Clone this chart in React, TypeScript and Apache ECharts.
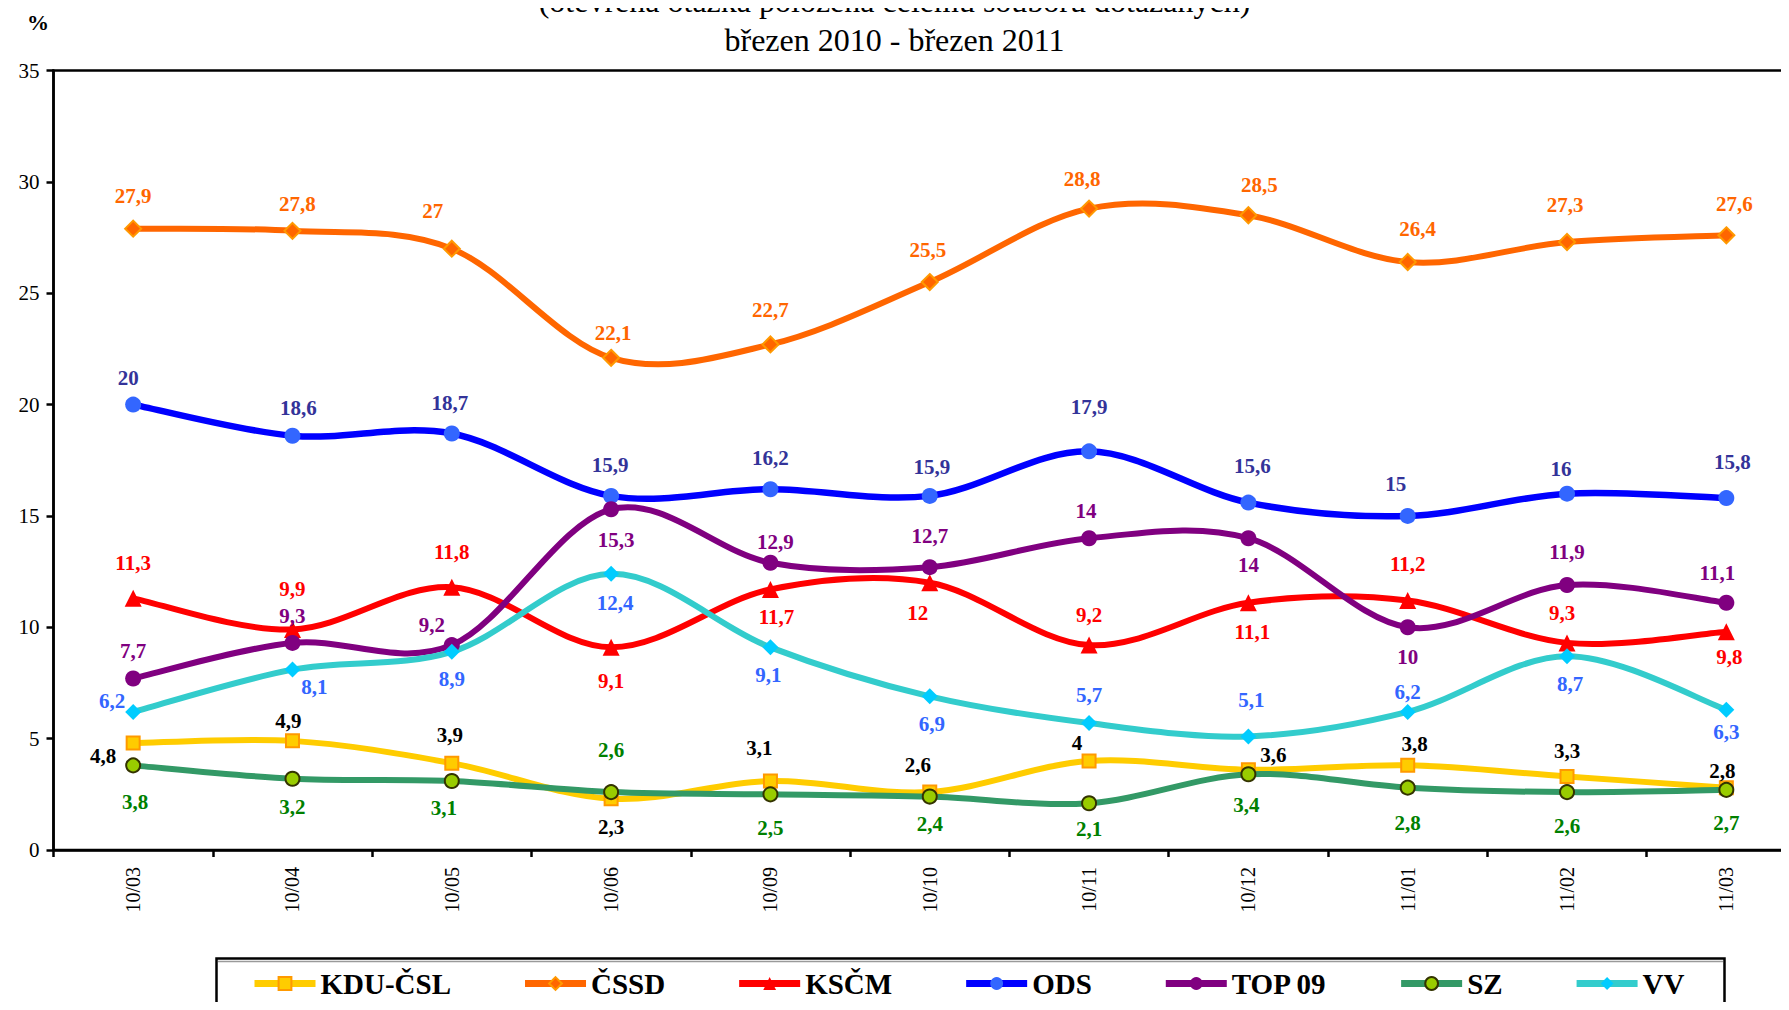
import React, { useEffect, useRef } from "react";
import * as echarts from "echarts";

const categories = ["10/03", "10/04", "10/05", "10/06", "10/09", "10/10", "10/11", "10/12", "11/01", "11/02", "11/03"];
const yTicks = [0, 5, 10, 15, 20, 25, 30, 35];

const kduCsl = [4.8, 4.9, 3.9, 2.3, 3.1, 2.6, 4, 3.6, 3.8, 3.3, 2.8];
const cssd = [27.9, 27.8, 27, 22.1, 22.7, 25.5, 28.8, 28.5, 26.4, 27.3, 27.6];
const kscm = [11.3, 9.9, 11.8, 9.1, 11.7, 12, 9.2, 11.1, 11.2, 9.3, 9.8];
const ods = [20, 18.6, 18.7, 15.9, 16.2, 15.9, 17.9, 15.6, 15, 16, 15.8];
const top09 = [7.7, 9.3, 9.2, 15.3, 12.9, 12.7, 14, 14, 10, 11.9, 11.1];
const sz = [3.8, 3.2, 3.1, 2.6, 2.5, 2.4, 2.1, 3.4, 2.8, 2.6, 2.7];
const vv = [6.2, 8.1, 8.9, 12.4, 9.1, 6.9, 5.7, 5.1, 6.2, 8.7, 6.3];

// label placement (layout only, not data)
const offKdu = [[-30, 13], [-4, -20], [-2, -28], [0, 28], [-11, -33], [-12, -27], [-12, -18], [25, -15], [7, -21], [0, -26], [-4, -17]];
const offCssd = [[0, -33], [5, -27], [-19, -38], [2, -25], [0, -34], [-2, -32], [-7, -30], [11, -30], [10, -33], [-2, -37], [8, -31]];
const offKscm = [[0, -35], [0, -41], [0, -35], [0, 34], [6, 28], [-12, 30], [0, -30], [4, 29], [0, -37], [-5, -30], [3, 25]];
const offOds = [[-5, -27], [6, -28], [-2, -31], [-1, -31], [0, -31], [2, -29], [0, -44], [4, -37], [-12, -32], [-6, -25], [6, -36]];
const offTop = [[0, -28], [0, -27], [-20, -20], [5, 31], [5, -21], [0, -31], [-3, -27], [0, 27], [0, 30], [0, -33], [-9, -30]];
const offSz = [[2, 37], [0, 28], [-8, 27], [0, -42], [0, 34], [0, 27], [0, 26], [-2, 31], [0, 35], [0, 34], [0, 33]];
const offVv = [[-21, -11], [22, 17], [0, 27], [4, 29], [-2, 28], [2, 28], [0, -28], [3, -36], [0, -20], [3, 28], [0, 22]];

const SERIF = "'Liberation Serif', 'Times New Roman', serif";

function curveSeries(name: string, values: number[], color: string, width: number) {
  return {
    name: name + " curve",
    type: "custom",
    silent: true,
    data: values.map((v, i) => [i, v]),
    renderItem: (params: any, api: any) => {
      if (params.dataIndex !== 0) return null;
      const pts = values.map((v, i) => api.coord([i, v]));
      const n = pts.length;
      let d = `M${pts[0][0]},${pts[0][1]}`;
      for (let i = 0; i < n - 1; i++) {
        const p0 = pts[i - 1] || pts[i];
        const p1 = pts[i];
        const p2 = pts[i + 1];
        const p3 = pts[i + 2] || pts[i + 1];
        const c1x = p1[0] + (p2[0] - p0[0]) / 6;
        const c1y = p1[1] + (p2[1] - p0[1]) / 6;
        const c2x = p2[0] - (p3[0] - p1[0]) / 6;
        const c2y = p2[1] - (p3[1] - p1[1]) / 6;
        d += ` C${c1x},${c1y} ${c2x},${c2y} ${p2[0]},${p2[1]}`;
      }
      return {
        type: "path",
        shape: { pathData: d },
        style: { fill: "none", stroke: color, lineWidth: width, lineJoin: "round", lineCap: "round" },
      };
    },
  };
}

function mkSeries(
  name: string,
  values: number[],
  offsets: number[][],
  lineColor: string,
  symbol: string,
  symbolSize: number,
  fill: string,
  border: string,
  borderWidth: number,
  labelColor: string,
  lineWidth: number
) {
  return [
    curveSeries(name, values, lineColor, lineWidth),
    {
      name,
      type: "line",
      symbol,
      symbolSize,
      showAllSymbol: true,
      lineStyle: { color: lineColor, width: lineWidth, opacity: 0 },
      itemStyle: { color: fill, borderColor: border, borderWidth },
      label: {
        show: true,
        position: "inside",
        align: "center",
        verticalAlign: "middle",
        color: labelColor,
        fontFamily: SERIF,
        fontWeight: "bold",
        fontSize: 21,
        formatter: (p: any) => String(p.value).replace(".", ","),
      },
      emphasis: { disabled: true },
      data: values.map((v, i) => ({ value: v, label: { offset: offsets[i] } })),
    },
  ];
}

export default function App() {
  const ref = useRef<HTMLDivElement>(null);
  useEffect(() => {
    if (!ref.current) return;
    const chart = echarts.init(ref.current, null, { renderer: "svg" });
    chart.setOption({
      animation: false,
      backgroundColor: "#ffffff",
      grid: {
        left: 53.5,
        width: 1752.5,
        top: 70.5,
        bottom: 160,
        outerBoundsMode: "none",
        containLabel: false,
        show: true,
        borderColor: "#000",
        borderWidth: 2.5,
        backgroundColor: "transparent",
      },
      graphic: [
        {
          type: "text",
          x: 894.5,
          y: 1,
          style: {
            text: "(otevřená otázka položená celému souboru dotázaných)",
            fontFamily: SERIF,
            fontSize: 32,
            fill: "#000",
            align: "center",
            verticalAlign: "middle",
          },
        },
        {
          type: "text",
          x: 894.5,
          y: 40,
          style: {
            text: "březen 2010 - březen 2011",
            fontFamily: SERIF,
            fontSize: 32,
            fill: "#000",
            align: "center",
            verticalAlign: "middle",
          },
        },
        {
          type: "text",
          x: 38,
          y: 22,
          style: {
            text: "%",
            fontFamily: SERIF,
            fontSize: 22,
            fontWeight: "bold",
            fill: "#000",
            align: "center",
            verticalAlign: "middle",
          },
        },
        {
          type: "rect",
          z: 1,
          shape: { x: 216.5, y: 958.5, width: 1508, height: 90 },
          style: { fill: "#fff", stroke: "#000", lineWidth: 2.5 },
        },
        {
          type: "line",
          z: 1,
          shape: { x1: 218, y1: 961.5, x2: 1723, y2: 961.5 },
          style: { stroke: "#9a9a9a", lineWidth: 1.5 },
        },
      ],
      legend: {
        z: 5,
        left: 246,
        top: 964,
        itemWidth: 61,
        itemHeight: 16,
        itemGap: 70.5,
        lineStyle: { width: 7, opacity: 1 },
        textStyle: { fontFamily: SERIF, fontSize: 29, fontWeight: "bold", color: "#000" },
        data: ["KDU-ČSL", "ČSSD", "KSČM", "ODS", "TOP 09", "SZ", "VV"],
      },
      xAxis: {
        type: "category",
        data: categories,
        boundaryGap: true,
        axisLine: { lineStyle: { color: "#000", width: 2.5 } },
        axisTick: { show: true, interval: 0, length: 7, lineStyle: { color: "#000", width: 2.5 } },
        axisLabel: {
          interval: 0,
          rotate: 90,
          margin: 17,
          fontFamily: SERIF,
          fontSize: 20,
          color: "#000",
        },
        splitLine: { show: false },
      },
      yAxis: {
        type: "value",
        min: yTicks[0],
        max: yTicks[yTicks.length - 1],
        interval: 5,
        axisLine: { show: true, lineStyle: { color: "#000", width: 2.5 } },
        axisTick: { show: true, inside: false, length: 7, lineStyle: { color: "#000", width: 2.5 } },
        axisLabel: { margin: 14, fontFamily: SERIF, fontSize: 21, color: "#000" },
        splitLine: { show: false },
      },
      series: [
        ...mkSeries("KDU-ČSL", kduCsl, offKdu, "#FFCC00", "rect", 13, "#FFCC00", "#FF9900", 2, "#000000", 6),
        ...mkSeries("ČSSD", cssd, offCssd, "#FF6600", "diamond", 16, "#FF6600", "#FF9900", 2, "#FF6600", 6),
        ...mkSeries("KSČM", kscm, offKscm, "#FF0000", "triangle", 17, "#FF0000", "#FF0000", 0, "#FF0000", 6),
        ...mkSeries("ODS", ods, offOds, "#0000FF", "circle", 16, "#3366FF", "#3366FF", 0, "#333399", 6.5),
        ...mkSeries("TOP 09", top09, offTop, "#800080", "circle", 16, "#800080", "#800080", 0, "#800080", 6),
        ...mkSeries("SZ", sz, offSz, "#339966", "circle", 14, "#99CC00", "#333300", 2, "#008000", 6),
        ...mkSeries("VV", vv, offVv, "#33CCCC", "diamond", 16, "#00CCFF", "#00CCFF", 0, "#3366FF", 6),
      ],
    });
    return () => chart.dispose();
  }, []);
  return <div ref={ref} style={{ width: 1789, height: 1010, margin: -8, overflow: "hidden" }} />;
}
